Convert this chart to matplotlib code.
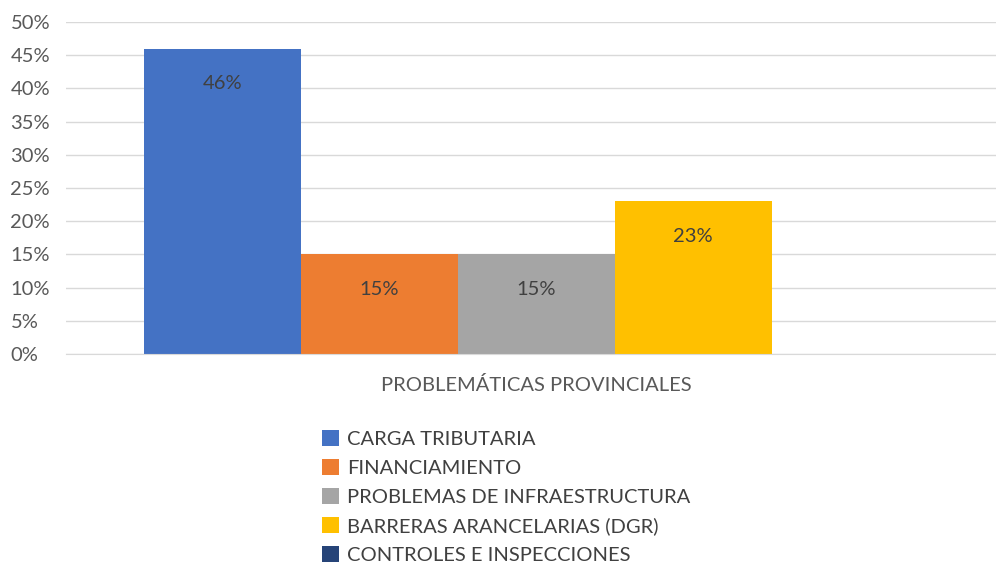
import numpy as np
import matplotlib.pyplot as plt
from matplotlib.patches import Patch

plt.rcParams['font.family'] = ['Lato', 'DejaVu Sans']

# data
series = ["CARGA TRIBUTARIA", "FINANCIAMIENTO", "PROBLEMAS DE INFRAESTRUCTURA",
          "BARRERAS ARANCELARIAS (DGR)", "CONTROLES E INSPECCIONES"]
values = [46, 15, 15, 23, 0]
colors = ["#4472C4", "#ED7D31", "#A5A5A5", "#FFC000", "#264478"]
category = "PROBLEMÁTICAS PROVINCIALES"
yticks = list(range(0, 55, 5))

W, H = 996, 565
fig = plt.figure(figsize=(W / 100, H / 100), dpi=100)
ax = fig.add_axes([66 / W, 1 - 354 / H, 1 - 66 / W, (354 - 22) / H])

x = np.arange(len(values))
ax.bar(x, values, width=1.0, color=colors, zorder=2)

for xi, v in zip(x, values):
    if v > 0:
        ax.annotate(f"{v}%", (xi, v), xytext=(0, -25), textcoords="offset points",
                    ha="center", va="center", fontsize=14.5, color="#404040")

ax.set_ylim(0, 50)
ax.set_xlim(-0.998, 4.93)
ax.set_yticks(yticks)
ax.set_yticklabels([f"{t}%" for t in yticks], fontsize=14.5, color="#595959", ha="left")
ax.set_xticks([2])
ax.set_xticklabels([category], fontsize=14.5, color="#595959")
ax.tick_params(length=0)
ax.tick_params(axis="y", pad=40)
ax.tick_params(axis="x", pad=16)
ax.grid(axis="y", color="#d9d9d9", linewidth=1, zorder=0)
for s in ["top", "right", "left"]:
    ax.spines[s].set_visible(False)
ax.spines["bottom"].set_color("#d9d9d9")

handles = [Patch(facecolor=c, label=s) for s, c in zip(series, colors)]
fig.legend(handles=handles, loc="upper left", bbox_to_anchor=(322 / W, 1 - 430 / H),
           frameon=False, fontsize=14.5, handlelength=0.85, handleheight=0.85,
           handletextpad=0.4, labelspacing=0.55, labelcolor="#404040",
           borderaxespad=0, borderpad=0)

fig.savefig("out.png", dpi=100)
